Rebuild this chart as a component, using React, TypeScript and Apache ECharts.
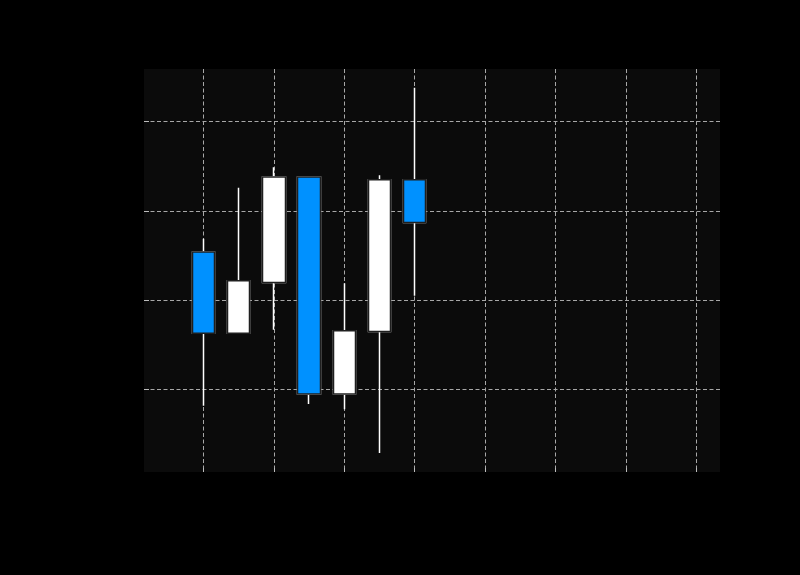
import React, { useEffect, useRef } from "react";
import * as echarts from "echarts";

// Candle positions along the x axis (value axis, unit = one period)
const positions = [0, 1, 2, 3, 4, 5, 6];
const opens = [105.4, 96.3, 102.0, 113.8, 89.5, 96.5, 113.5];
const closes = [96.3, 102.2, 113.8, 89.5, 96.6, 113.5, 108.7];
const lows = [88.2, 96.3, 96.7, 88.4, 87.8, 82.9, 100.5];
const highs = [106.9, 112.6, 114.9, 113.8, 101.9, 114.0, 123.8];

// Tick values (labels are not visible in the reference)
const xTicks = [0, 2, 4, 6, 8, 10, 12, 14];
const yTicks = [90, 100, 110, 120];
const xRange = [-1.69, 14.67];
const yRange = [80.78, 125.89];

export default function App() {
  const ref = useRef<HTMLDivElement>(null);

  useEffect(() => {
    if (!ref.current) return;
    const chart = echarts.init(ref.current, null, { renderer: "svg" });

    const fullCandles = positions.map((x, i) => [x, opens[i], closes[i], lows[i], highs[i]]);
    const bodies = positions.map((x, i) => [
      x,
      opens[i],
      closes[i],
      Math.min(opens[i], closes[i]),
      Math.max(opens[i], closes[i]),
    ]);

    const gridLine = { color: "#a8a8a8", type: [4, 2.5] as any, width: 1 };
    const tickLine = { color: "#bdbdbd", width: 1 };

    chart.setOption({
      animation: false,
      backgroundColor: "#000000",
      grid: {
        left: 144,
        top: 69,
        width: 576,
        height: 403,
        show: true,
        backgroundColor: "#0b0b0b",
        borderWidth: 0,
      },
      xAxis: {
        type: "value",
        min: xRange[0],
        max: xRange[1],
        splitNumber: 8,
        axisLine: { show: false, onZero: false },
        axisTick: { show: true, inside: true, length: 4, lineStyle: tickLine, customValues: xTicks },
        axisLabel: { show: false },
        splitLine: { show: true, lineStyle: gridLine },
      },
      yAxis: {
        type: "value",
        min: yRange[0],
        max: yRange[1],
        splitNumber: 5,
        axisLine: { show: false, onZero: false },
        axisTick: { show: true, inside: true, length: 5, lineStyle: tickLine, customValues: yTicks },
        axisLabel: { show: false },
        splitLine: { show: true, lineStyle: gridLine },
      },
      series: [
        {
          type: "candlestick",
          data: fullCandles,
          barWidth: 23,
          silent: true,
          itemStyle: {
            color: "#ffffff",
            color0: "#0091ff",
            borderColor: "#ffffff",
            borderColor0: "#ffffff",
            borderWidth: 1.5,
          },
        },
        {
          type: "candlestick",
          data: bodies,
          barWidth: 23,
          silent: true,
          itemStyle: {
            color: "#ffffff",
            color0: "#0091ff",
            borderColor: "#1f1f1f",
            borderColor0: "#1f1f1f",
            borderWidth: 1.5,
          },
        },
      ],
    });

    return () => chart.dispose();
  }, []);

  return (
    <div
      ref={ref}
      style={{ position: "fixed", left: 0, top: 0, width: 800, height: 575, background: "#000" }}
    />
  );
}
